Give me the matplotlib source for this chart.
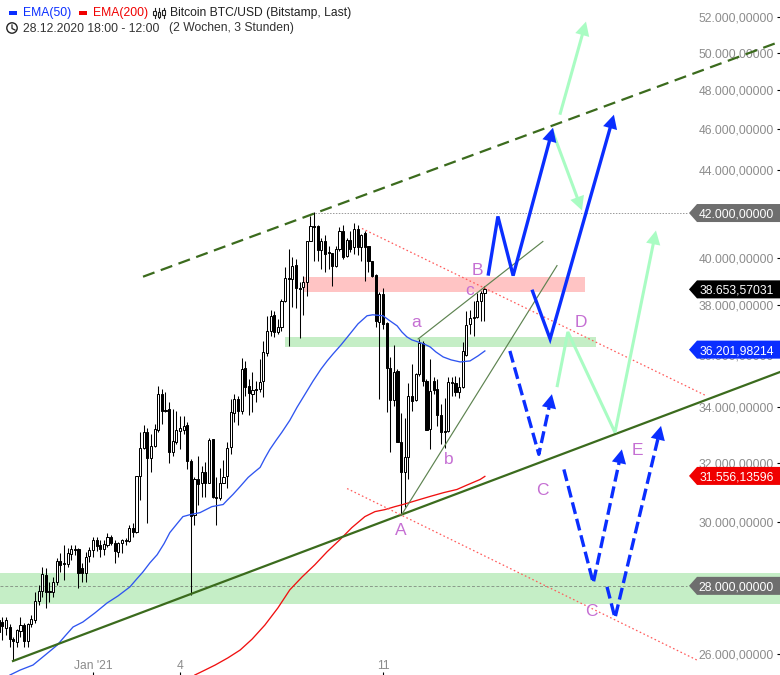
#!/usr/bin/env python3
# -*- coding: utf-8 -*-
import matplotlib
matplotlib.use("Agg")
import matplotlib.pyplot as plt
import numpy as np
from matplotlib.patches import Circle, Rectangle
from matplotlib.ticker import NullLocator

plt.rcParams['font.family'] = ['Liberation Sans', 'DejaVu Sans']

# 3h candles, x axis = candle number
opens = [26980,26920,26750,26775,26425,26340,26660,26835,26370,26865,
         26980,27545,27845,28340,27845,27815,28120,28775,28710,28680,
         28995,29155,29155,28555,28400,28930,29120,29440,29280,29155,
         29280,29540,29345,29060,29345,29410,29410,29830,29700,31540,
         32515,33090,32165,32590,33160,34490,33895,33930,32375,32730,
         33125,33160,33345,32060,30255,31435,31330,31675,31330,32840,
         30855,30820,31330,31540,32550,33785,34305,33860,35485,34795,
         34490,34680,34680,34985,36070,36945,37600,36905,37110,38180,
         39150,39105,39710,38725,38765,38980,40720,41390,41390,40365,
         40720,40275,40235,39665,40410,41165,40100,40765,40455,41255,
         40455,41120,40500,39885,39280,37310,38470,37270,35485,34265,
         35370,32730,31675,32200,34415,34265,35255,36465,34985,33200,
         34985,34680,33710,33125,33125,34910,34910,34565,34755,35995,
         37230,37475,37520,38180,38515]
highs = [27215,27070,27070,26860,26485,26715,27070,26895,26895,27125,
         27815,28030,28585,28555,28120,28275,28870,29025,29280,29185,
         29280,29280,29185,28710,29060,29215,29540,29540,29440,29440,
         29670,29605,29440,29380,29475,29505,29930,29965,31540,33090,
         33345,33235,33020,33380,34795,34680,34565,34190,33930,33860,
         33670,33670,33455,32130,31505,32235,31885,32025,32875,32840,
         31505,31815,32095,32730,34305,34490,34420,35875,35755,35060,
         35330,34985,35835,36545,37560,37805,37765,37435,38260,39620,
         40410,40060,39970,38980,39240,40720,41845,42030,41435,40855,
         40990,40540,40235,40500,41345,41435,40855,41165,41525,41435,
         41075,41165,40500,39885,39320,38555,38725,37310,35915,36385,
         35445,33785,33600,34910,35640,35295,36625,36545,35060,35835,
         35140,35060,34120,34340,35140,35140,35175,35140,36505,37765,
         37805,38180,38515,38600,38810]
lows = [26398,26400,26550,26200,25830,26200,26485,26200,26200,26775,
        26895,27425,27665,27335,27515,27665,28030,28430,28185,28585,
        28805,28965,27940,28120,28120,28745,28900,29090,28900,28965,
        29215,29280,28710,28900,29025,29280,29380,29540,29665,30755,
        32480,29995,31675,32550,33090,33380,33820,31990,32235,32660,
        32480,33015,31780,27725,29930,30590,30855,30855,31300,30820,
        29930,30755,31330,31160,32305,33455,33345,33750,34415,33710,
        33820,34190,34565,34380,35950,36745,36705,36825,36945,38135,
        36350,37925,37890,36665,37600,38390,40720,39885,39885,39535,
        39405,39535,38810,39620,40320,39970,40060,40275,40190,40145,
        39885,39020,39405,39190,37110,34305,37030,33820,32375,34040,
        32730,30255,30520,31435,33860,34230,35180,34795,33160,32480,
        34490,33305,32660,32515,33090,34415,34415,34340,34715,35950,
        36825,36745,37475,37350,37350]
closes = [26630,26800,26980,26425,26370,26690,26835,26370,26865,27010,
          27545,27845,28370,27815,27815,28120,28775,28650,28680,29025,
          29155,29120,28400,28400,28900,29120,29440,29250,29155,29315,
          29540,29345,29090,29345,29440,29440,29830,29700,31540,32515,
          33090,32165,32590,33200,34490,33860,33860,32375,32765,33160,
          33235,33305,32060,30225,31435,31265,31675,31330,32800,30855,
          30820,31330,31505,32515,33820,34305,33860,35445,34755,34530,
          34640,34640,34945,36110,36945,37560,36905,37110,38180,39150,
          39105,39665,38725,38680,38980,40720,41390,41345,40365,40720,
          40190,40235,39665,40410,41165,40060,40765,40410,41255,40455,
          41030,40455,39885,39235,37350,38470,37230,35485,34265,35330,
          32730,31675,32200,34415,34230,35255,36465,34985,33160,34605,
          34640,33710,33090,33090,34945,34945,34565,34755,36150,37190,
          37475,37520,38180,38515,38680]

# moving averages, read at points along each curve
ema50_x = [3.1,5.9,9.45,12.8,16.1,18.3,20.5,23.2,26.5,29.9,32.9,36.2,38.1,39.8,
           41.7,43.7,45.6,47.2,49.2,50.8,52.8,55.5,58.8,61.9,63.2,64.6,66.6,
           68.8,70.4,72.1,73.4,74.8,76.5,78.1,80.3,82.3,84.5,86.7,88.9,90.6,
           92.2,94.4,96.9,99.1,101.6,103.2,106,107.9,109.9,111.2,112.6,114,
           115.7,117.3,119,120.6,122.6,124.8,127.3,130,132.2,134.1]
ema50_y = [25413,25550,25690,25970,26250,26515,26775,26920,27185,27485,27695,
           27970,28215,28430,28710,28965,29315,29670,29960,30190,30255,30320,
           30520,30590,30755,30925,31195,31505,31675,31850,32165,32480,32800,
           33090,33525,34005,34490,34985,35445,35760,36030,36385,36830,37230,
           37560,37600,37560,37355,37150,36905,36705,36585,36505,36425,36310,
           36110,35915,35800,35720,35760,35955,36150]
ema200_x = [54.1,56.9,59.7,63.2,66.6,69.9,73.4,77,80.3,83.7,87.2,90.6,94.1,97.4,
            101,103.8,106.5,109.3,111.5,115.1,119,122.8,126.4,128.9,130.8,132.8,
            134.1]
ema200_y = [25413,25550,25690,25890,26113,26425,26830,27335,27880,28275,28650,
            29060,29440,29830,30190,30355,30420,30520,30590,30720,30860,30990,
            31095,31230,31330,31435,31540]

# support / resistance levels
upper_channel_x = [39.8, 215.5]
upper_channel_y = [39190, 50606]
support_x = [3.93, 215.5]
support_y = [25803, 35330]
red_dots1_x = [100.2, 194.8]
red_dots1_y = [41300, 34455]
red_dots2_x = [96.1, 192.6]
red_dots2_y = [31125, 25830]
thin1_x = [115.7, 150.1]
thin1_y = [36625, 40720]
thin2_x = [111, 154]
thin2_y = [30225, 39665]

# projected waves
blue1_x = [135, 137.7, 141.9, 152.9]
blue1_y = [39235, 41845, 39235, 46085]
blue2_x = [147.1, 152.1, 169.7]
blue2_y = [38640, 36625, 46740]
dash1_x = [141, 149, 152.6]
dash1_y = [36150, 32305, 34490]
dash2_x = [155.9, 164, 171.9]
dash2_y = [31780, 28088, 32480]
dash3_x = [167.8, 170, 182.7]
dash3_y = [27970, 27040, 33320]
light1_x = [154.8, 162]
light1_y = [46740, 51720]
light2_x = [152.6, 160.9]
light2_y = [45985, 42120]
light3_x = [154, 157, 170, 181.3]
light3_y = [34755, 36905, 33085, 41210]

wave_labels = ["A", "B", "C", "C", "D", "E", "a", "b", "c"]
wave_labels_x = [110.8, 132, 150.1, 163.6, 160.6, 176.1, 115.2, 124, 130]
wave_labels_y = [29770, 39530, 31120, 27275, 37360, 32480, 37360, 32180, 38680]

y_ticks = [26000, 28000, 30000, 32000, 34000, 36000, 38000, 40000, 42000,
           44000, 46000, 48000, 50000, 52000]
x_ticks = [26, 50, 106]
x_labels = ["Jan '21", "4", "11"]
tag_prices = [42000, 38653.57031, 36201.98214, 31556.13596, 28000]
tag_colors = ["#6e6e6e", "black", "#0a2eff", "#f00000", "#6e6e6e"]

W, H = 780, 675
BLUE = "#0a2eff"
LIGHT = "#a9fcc3"
DGREEN = "#3b6b1d"
PURPLE = "#c56fd3"
GREY = "#8c8c8c"


def fmt_price(p, dec=5):
    s = f"{p:,.{dec}f}"
    return s.replace(",", "X").replace(".", ",").replace("X", ".")


def wave(ax, xs, ys, color, ls="-", lw=2.4, z=7):
    # shaft stops under the head, so measure the last leg in pixels
    p1 = ax.transData.transform((xs[-1], ys[-1]))
    p0 = ax.transData.transform((xs[-2], ys[-2]))
    t = 13 / np.hypot(*(p1 - p0))
    x_end = xs[-1] + t * (xs[-2] - xs[-1])
    y_end = ys[-1] * (ys[-2] / ys[-1]) ** t
    ax.plot(xs[:-1] + [x_end], ys[:-1] + [y_end], color=color, lw=lw, ls=ls,
            solid_joinstyle="miter", solid_capstyle="butt", zorder=z)
    ax.annotate("", xy=(xs[-1], ys[-1]), xytext=(x_end, y_end),
                arrowprops=dict(arrowstyle="-|>,head_length=0.5,head_width=0.26",
                                color=color, lw=0, mutation_scale=20,
                                shrinkA=0, shrinkB=0), zorder=z)


fig = plt.figure(figsize=(W / 100, H / 100), dpi=100)
ax = fig.add_axes([0, 0, 1, 1])
ax.set_yscale("log")
ax.set_xlim(0.345, 215.52)
ax.set_ylim(25413, 52950)
for s in ax.spines.values():
    s.set_visible(False)

# axis ticks sit inside the plot
ax.set_yticks(y_ticks, [fmt_price(t) for t in y_ticks], ha="right")
ax.yaxis.set_minor_locator(NullLocator())
ax.tick_params(axis="y", left=False, right=True, labelleft=False, labelright=True,
               direction="in", length=2.4, width=0.8, pad=-4.4,
               labelsize=8.7, labelcolor=GREY)
ax.set_xticks(x_ticks, x_labels)
ax.tick_params(axis="x", direction="in", length=2.4, width=0.8, pad=-10.5,
               labelsize=8.7, labelcolor=GREY)

# zones
ax.axhspan(27455, 28400, color="#c5eec6", lw=0, zorder=1)
ax.fill_between([83.9, 161.7], 38555, 39190, color="#ffc4c4", lw=0, zorder=1)
ax.fill_between([79, 164.8], 36310, 36710, color="#c5eec6", lw=0, zorder=1)
ax.plot([87.2, 190], [42000, 42000], color="#999999", lw=0.7, ls=(0, (1.5, 1.5)), zorder=1.5)
ax.plot([0.345, 190], [28000, 28000], color="#8a9a8a", lw=0.7, ls=(0, (3, 2)), zorder=1.5)

# candles
idx = np.arange(len(opens))
o = np.array(opens, dtype=float)
c = np.array(closes, dtype=float)
ax.vlines(idx, lows, highs, color="black", lw=0.75, zorder=3)
up = c >= o
ax.bar(idx[up], c[up] - o[up], bottom=o[up], width=0.6, facecolor="white",
       edgecolor="black", lw=0.72, zorder=4)
ax.bar(idx[~up], o[~up] - c[~up], bottom=c[~up], width=0.6, facecolor="black",
       edgecolor="black", lw=0.72, zorder=4)

ax.plot(ema50_x, ema50_y, color="#2f55f0", lw=0.95, zorder=5)
ax.plot(ema200_x, ema200_y, color="#f01010", lw=0.95, zorder=5)

ax.plot(upper_channel_x, upper_channel_y, color=DGREEN, lw=1.6, ls=(0, (5.5, 3)), zorder=5)
ax.plot(support_x, support_y, color=DGREEN, lw=1.6, zorder=5)
ax.plot(thin1_x, thin1_y, color="#5d8350", lw=0.85, zorder=5)
ax.plot(thin2_x, thin2_y, color="#5d8350", lw=0.85, zorder=5)
ax.plot(red_dots1_x, red_dots1_y, color="#ff5a5a", lw=0.9, ls=(0, (1.3, 2)), zorder=5)
ax.plot(red_dots2_x, red_dots2_y, color="#ff5a5a", lw=0.9, ls=(0, (1.3, 2)), zorder=5)

wave(ax, light1_x, light1_y, LIGHT, lw=2.2)
wave(ax, light2_x, light2_y, LIGHT, lw=2.2)
wave(ax, light3_x, light3_y, LIGHT, lw=2.2)
wave(ax, blue1_x, blue1_y, BLUE, z=8)
wave(ax, blue2_x, blue2_y, BLUE, z=8)
wave(ax, dash1_x, dash1_y, BLUE, ls=(0, (3.6, 1.5)), z=8)
wave(ax, dash2_x, dash2_y, BLUE, ls=(0, (3.6, 1.5)), z=8)
wave(ax, dash3_x, dash3_y, BLUE, ls=(0, (3.6, 1.5)), z=8)

for t, x, y in zip(wave_labels, wave_labels_x, wave_labels_y):
    ax.text(x, y, t, color=PURPLE, fontsize=12.5, ha="center", va="center_baseline", zorder=9)

# price tags on the right edge
tr = ax.get_yaxis_transform()
f = np.exp(9 / 919)
for p, col in zip(tag_prices, tag_colors):
    ax.fill([697 / W, 1, 1, 697 / W, 689 / W], [p * f, p * f, p / f, p / f, p],
            color=col, lw=0, transform=tr, zorder=10, clip_on=False)
    ax.text(774 / W, p, fmt_price(p), color="white", fontsize=8.7, ha="right",
            va="center_baseline", transform=tr, zorder=11)


# header, placed in pixels from the top left
def px(x, y):
    return x / W, 1 - y / H


def head(x, y, text, color):
    ax.text(*px(x, y), text, color=color, fontsize=8.7, va="center",
            transform=ax.transAxes, zorder=12)


head(23, 13, "EMA(50)", "#0a2eff")
head(93, 13, "EMA(200)", "#f00000")
head(170, 13, "Bitcoin BTC/USD (Bitstamp, Last)", "#222222")
head(23, 28.5, "28.12.2020 18:00 - 12:00", "#333333")
head(169, 28.5, "(2 Wochen, 3 Stunden)", "#333333")
ax.add_patch(Rectangle(px(9, 14.5), 8 / W, 3 / H, color="#0a2eff", lw=0,
                       transform=ax.transAxes, zorder=12))
ax.add_patch(Rectangle(px(79, 14.5), 8 / W, 3 / H, color="#f00000", lw=0,
                       transform=ax.transAxes, zorder=12))
# little candle icon
for x0, y0, y1, b0, b1 in [(154.5, 8, 18, 11, 15), (159, 8, 18, 12, 17), (163.5, 8, 18, 10, 15)]:
    ax.plot(*zip(px(x0, y0), px(x0, y1)), color="#222222", lw=0.8,
            transform=ax.transAxes, zorder=12)
    ax.add_patch(Rectangle(px(x0 - 1.2, b1), 2.4 / W, (b1 - b0) / H, fc="white",
                           ec="#222222", lw=0.8, transform=ax.transAxes, zorder=13))
# clock icon, drawn in pixels so it stays round
ax.add_artist(Circle((12, H - 28), 5.2, fc="white", ec="#222222", lw=1.0,
                     transform=None, zorder=12))
ax.plot(*zip(px(12, 25), px(12, 28.5), px(15, 30)), color="#222222", lw=0.9,
        transform=ax.transAxes, zorder=13)

fig.savefig("out.png", dpi=100)
